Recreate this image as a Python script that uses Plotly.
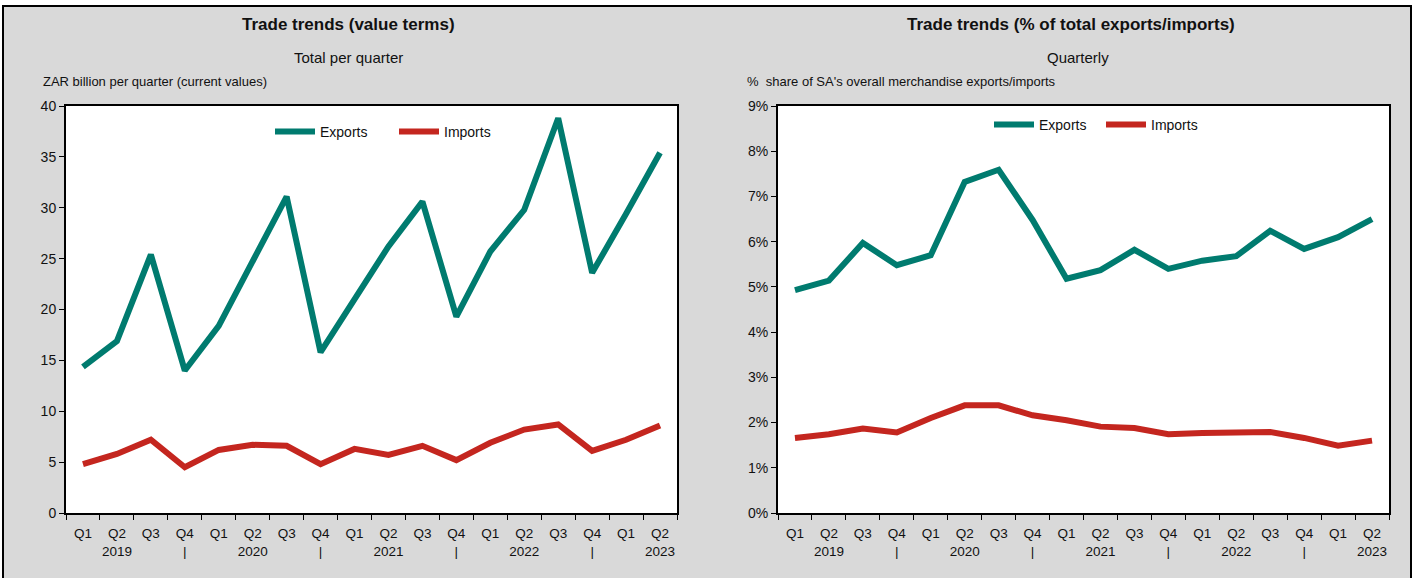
import plotly.graph_objects as go

W, H = 1416, 578

quarters = ["Q1", "Q2", "Q3", "Q4", "Q1", "Q2", "Q3", "Q4", "Q1", "Q2", "Q3", "Q4",
            "Q1", "Q2", "Q3", "Q4", "Q1", "Q2"]
year_row = ["\u00a0", "2019", "\u00a0", "|", "\u00a0", "2020", "\u00a0", "|", "\u00a0", "2021",
            "\u00a0", "|", "\u00a0", "2022", "\u00a0", "|", "\u00a0", "2023"]
periods = ["2019Q1", "2019Q2", "2019Q3", "2019Q4", "2020Q1", "2020Q2", "2020Q3", "2020Q4",
           "2021Q1", "2021Q2", "2021Q3", "2021Q4", "2022Q1", "2022Q2", "2022Q3", "2022Q4",
           "2023Q1", "2023Q2"]

exports_value = [14.35, 16.9, 25.4, 14.0, 18.4, 24.8, 31.1, 15.8, 20.9, 26.2, 30.6, 19.3,
                 25.7, 29.8, 38.8, 23.6, 29.4, 35.4]
imports_value = [4.8, 5.8, 7.2, 4.5, 6.2, 6.7, 6.6, 4.8, 6.3, 5.7, 6.6, 5.2,
                 6.9, 8.2, 8.7, 6.1, 7.2, 8.6]

exports_share = [4.93, 5.14, 5.97, 5.48, 5.70, 7.32, 7.59, 6.48, 5.18, 5.37, 5.82, 5.40,
                 5.58, 5.68, 6.24, 5.84, 6.10, 6.50]
imports_share = [1.66, 1.74, 1.87, 1.78, 2.10, 2.38, 2.38, 2.16, 2.05, 1.91, 1.88, 1.74,
                 1.77, 1.79, 1.79, 1.66, 1.49, 1.60]

ticktext = [f"{q}<br>{y}" for q, y in zip(quarters, year_row)]

TEAL = "#007B6F"
RED = "#C4261F"
GRAY = "#D9D9D9"
FONT = "Liberation Sans Narrow, Arial Narrow, Liberation Sans, Arial, sans-serif"

fig = go.Figure()

fig.add_trace(go.Scatter(x=periods, y=exports_value, name="Exports", mode="lines",
                         line=dict(color=TEAL, width=6), xaxis="x", yaxis="y", legend="legend"))
fig.add_trace(go.Scatter(x=periods, y=imports_value, name="Imports", mode="lines",
                         line=dict(color=RED, width=6), xaxis="x", yaxis="y", legend="legend"))
fig.add_trace(go.Scatter(x=periods, y=exports_share, name="Exports", mode="lines",
                         line=dict(color=TEAL, width=6), xaxis="x2", yaxis="y2", legend="legend2"))
fig.add_trace(go.Scatter(x=periods, y=imports_share, name="Imports", mode="lines",
                         line=dict(color=RED, width=6), xaxis="x2", yaxis="y2", legend="legend2"))

ydom = [1 - 513 / H, 1 - 106 / H]
xaxis_common = dict(type="category", tickvals=periods, ticktext=ticktext, tickson="boundaries",
                    range=[-0.5, len(periods) - 0.5],
                    tickangle=0, automargin=False, ticklabelstandoff=7,
                    ticks="outside", ticklen=5, tickcolor="black", tickwidth=1,
                    showline=True, linecolor="black", linewidth=2, mirror=True,
                    showgrid=False, zeroline=False, tickfont=dict(size=13.5, color="#111"),
                    fixedrange=True)
yaxis_common = dict(ticks="outside", ticklen=5, tickcolor="black", tickwidth=1, automargin=False,
                    showline=True, linecolor="black", linewidth=2, mirror=True,
                    showgrid=False, zeroline=False, tickfont=dict(size=14, color="#111"))

fig.update_layout(
    width=W, height=H,
    margin=dict(l=0, r=0, t=0, b=0),
    paper_bgcolor=GRAY, plot_bgcolor="white",
    font=dict(family=FONT, color="#111"),
    xaxis=dict(domain=[66 / W, 677 / W], anchor="y", **xaxis_common),
    yaxis=dict(domain=ydom, anchor="x", range=[0, 40], dtick=5, **yaxis_common),
    xaxis2=dict(domain=[778 / W, 1389 / W], anchor="y2", **xaxis_common),
    yaxis2=dict(domain=ydom, anchor="x2", range=[0, 9], dtick=1, ticksuffix="%", **yaxis_common),
    legend=dict(orientation="h", x=270 / W, y=1 - 132 / H, xanchor="left", yanchor="middle",
                bgcolor="rgba(0,0,0,0)", font=dict(size=14, color="#111"), itemwidth=40,
                entrywidth=69),
    legend2=dict(orientation="h", x=989 / W, y=1 - 125 / H, xanchor="left", yanchor="middle",
                 bgcolor="rgba(0,0,0,0)", font=dict(size=14, color="#111"), itemwidth=40,
                 entrywidth=57),
    showlegend=True,
)

# white strips outside the panel border
for x0, x1, y0, y1 in [(0, W, 0, 6), (0, 3, 0, H), (1411, W, 0, H)]:
    fig.add_shape(type="rect", xref="paper", yref="paper", x0=x0 / W, x1=x1 / W,
                  y0=1 - y1 / H, y1=1 - y0 / H, fillcolor="white", line=dict(width=0),
                  layer="below")
fig.add_shape(type="rect", xref="paper", yref="paper", x0=3 / W, x1=1411 / W,
              y0=-0.05, y1=1 - 6 / H, fillcolor="rgba(0,0,0,0)", line=dict(color="black", width=2))

annots = [
    dict(text="<b>Trade trends (value terms)</b>", x=348, y=25, size=17, xanchor="center"),
    dict(text="Total per quarter", x=348, y=58, size=15, xanchor="center"),
    dict(text="ZAR billion per quarter (current values)", x=41, y=82, size=13, xanchor="left"),
    dict(text="<b>Trade trends (% of total exports/imports)</b>", x=1071, y=25, size=17, xanchor="center"),
    dict(text="Quarterly", x=1078, y=58, size=15, xanchor="center"),
    dict(text="% \u00a0share of SA's overall merchandise exports/imports", x=745, y=82, size=13, xanchor="left"),
]
for a in annots:
    fig.add_annotation(text=a["text"], xref="paper", yref="paper", x=a["x"] / W, y=1 - a["y"] / H,
                       xanchor=a["xanchor"], yanchor="middle", showarrow=False,
                       font=dict(size=a["size"], color="#111", family=FONT))

fig.write_html("out.html", config={"displayModeBar": False},
               post_script="document.body.style.margin='0';document.body.style.overflow='hidden';")
